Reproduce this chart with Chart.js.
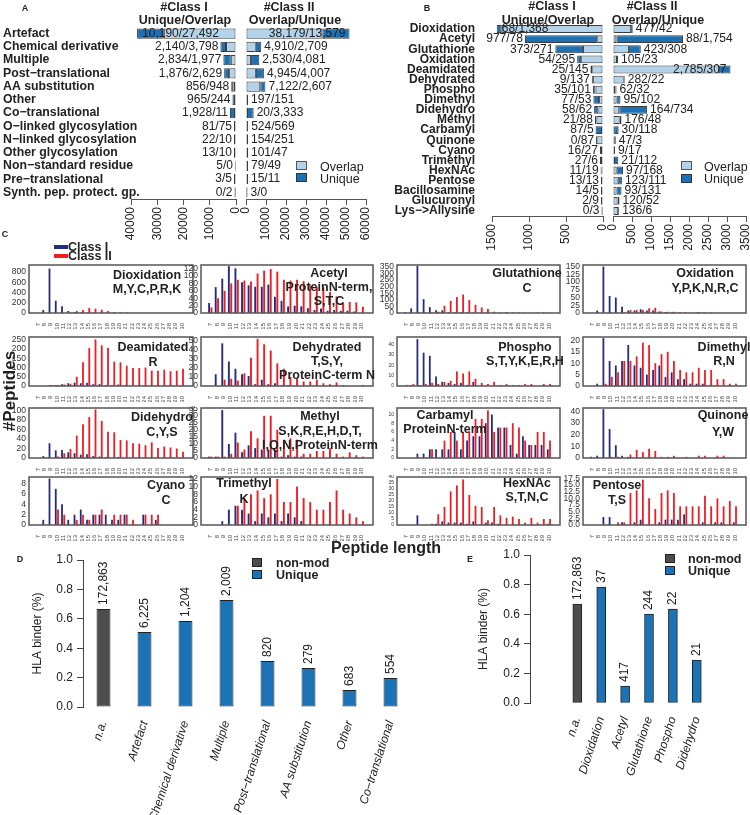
<!DOCTYPE html>
<html>
<head>
<meta charset="utf-8">
<script src="https://cdn.jsdelivr.net/npm/chart.js@4.4.0/dist/chart.umd.min.js"></script>
<style>
  body { margin: 0; background: #fff; }
  #fig { position: relative; width: 750px; height: 815px; overflow: hidden;
         font-family: "Liberation Sans", Arial, sans-serif; color: #222; }
  #fig canvas { position: absolute; }
  .t { position: absolute; white-space: nowrap; line-height: 1; z-index: 5; }
  .sw { position: absolute; box-sizing: border-box; z-index: 5; }
</style>
</head>
<body>
<div id="fig"></div>
<script>
// ---- panel A: modification classes ----
const aCats = ['Artefact', 'Chemical derivative', 'Multiple', 'Post\u2212translational', 'AA substitution',
  'Other', 'Co\u2212translational', 'O\u2212linked glycosylation', 'N\u2212linked glycosylation',
  'Other glycosylation', 'Non\u2212standard residue', 'Pre\u2212translational', 'Synth. pep. protect. gp.'];
const aC1Unique = [10190, 2140, 2834, 1876, 856, 965, 1928, 81, 22, 13, 5, 3, 0];
const aC1Overlap = [27492, 3798, 1977, 2629, 948, 244, 11, 75, 10, 10, 0, 5, 2];
const aC2Overlap = [38179, 4910, 2530, 4945, 7122, 197, 20, 524, 154, 101, 79, 15, 3];
const aC2Unique = [13579, 2709, 4081, 4007, 2607, 151, 3333, 569, 251, 47, 49, 11, 0];

// ---- panel B: single modifications ----
const bCats = ['Dioxidation', 'Acetyl', 'Glutathione', 'Oxidation', 'Deamidated', 'Dehydrated', 'Phospho',
  'Dimethyl', 'Didehydro', 'Methyl', 'Carbamyl', 'Quinone', 'Cyano', 'Trimethyl', 'HexNAc', 'Pentose',
  'Bacillosamine', 'Glucuronyl', 'Lys\u2212>Allysine'];
const bC1Unique = [68, 977, 373, 54, 25, 9, 35, 77, 58, 21, 87, 0, 16, 27, 11, 13, 14, 2, 0];
const bC1Overlap = [1368, 78, 271, 295, 145, 137, 101, 53, 62, 88, 5, 87, 27, 6, 19, 13, 5, 9, 3];
const bC2Overlap = [477, 88, 423, 105, 2785, 282, 62, 95, 164, 176, 30, 47, 9, 21, 97, 123, 93, 120, 136];
const bC2Unique = [42, 1754, 308, 23, 307, 22, 32, 102, 734, 48, 118, 3, 17, 112, 168, 111, 131, 52, 6];

// ---- panel C: peptide length distributions (lengths 7..30) ----
const lengths = ['7', '8', '9', '10', '11', '12', '13', '14', '15', '16', '17', '18', '19', '20',
  '21', '22', '23', '24', '25', '26', '27', '28', '29', '30'];
const dioxC1 = [0, 60, 870, 240, 130, 40, 20, 10, 5, 5, 3, 2, 0, 0, 0, 0, 0, 0, 0, 0, 0, 0, 0, 0];
const dioxC2 = [0, 0, 0, 0, 0, 8, 40, 60, 100, 85, 65, 40, 15, 10, 10, 4, 3, 2, 2, 2, 1, 1, 1, 1];
const acetC1 = [27, 70, 93, 127, 121, 83, 75, 71, 71, 77, 44, 33, 18, 20, 18, 13, 8, 12, 6, 8, 6, 6, 4, 0];
const acetC2 = [15, 40, 60, 80, 90, 88, 85, 107, 115, 119, 112, 90, 88, 90, 86, 75, 70, 70, 57, 45, 27, 30, 29, 17];
const glutC1 = [5, 35, 360, 105, 45, 20, 20, 5, 5, 5, 3, 2, 2, 2, 0, 0, 0, 0, 0, 0, 0, 0, 0, 0];
const glutC2 = [0, 0, 3, 3, 3, 10, 55, 93, 122, 140, 100, 62, 42, 30, 10, 3, 8, 3, 3, 3, 3, 3, 5, 2];
const oxidC1 = [0, 8, 150, 55, 50, 20, 8, 8, 12, 8, 8, 5, 3, 2, 1, 1, 1, 1, 1, 0, 0, 0, 0, 0];
const oxidC2 = [0, 0, 0, 1, 1, 2, 10, 10, 10, 15, 17, 5, 4, 4, 3, 2, 1, 3, 2, 2, 1, 1, 0, 0];
const deamC1 = [0, 0, 3, 5, 10, 15, 18, 15, 18, 10, 10, 5, 3, 8, 3, 0, 0, 0, 0, 0, 0, 0, 0, 0];
const deamC2 = [0, 0, 5, 5, 8, 12, 50, 128, 205, 252, 220, 207, 132, 128, 110, 97, 97, 100, 83, 83, 88, 80, 83, 93];
const dehyC1 = [0, 13, 47, 27, 19, 13, 11, 2, 7, 2, 3, 1, 1, 0, 0, 0, 0, 0, 0, 0, 0, 0, 0, 0];
const dehyC2 = [0, 0, 7, 8, 6, 14, 31, 52, 46, 39, 25, 19, 10, 8, 5, 5, 7, 3, 2, 4, 1, 0, 0, 1];
const phosC1 = [0, 1, 45, 32, 29, 9, 4, 3, 2, 3, 1, 4, 0, 0, 0, 0, 0, 0, 0, 0, 0, 0, 0, 0];
const phosC2 = [1, 2, 1, 2, 3, 2, 4, 5, 14, 12, 14, 7, 3, 2, 4, 1, 2, 1, 1, 2, 2, 0, 2, 2];
const dimeC1 = [0, 1, 21, 11, 9, 11, 18, 9, 8, 5, 7, 9, 4, 6, 3, 3, 1, 1, 1, 0, 0, 0, 0, 0];
const dimeC2 = [0, 0, 1, 4, 6, 11, 11, 13, 19, 18, 10, 14, 15, 11, 7, 6, 6, 8, 7, 7, 3, 3, 1, 1];
const didhC1 = [0, 4, 31, 16, 17, 12, 10, 7, 8, 4, 3, 2, 0, 2, 0, 0, 0, 0, 0, 0, 0, 0, 0, 0];
const didhC2 = [0, 0, 0, 3, 10, 19, 47, 71, 86, 102, 78, 55, 54, 38, 37, 31, 30, 27, 33, 21, 24, 22, 20, 13];
const methC1 = [1, 1, 34, 10, 18, 4, 9, 7, 6, 6, 5, 1, 2, 1, 1, 0, 0, 0, 0, 0, 0, 0, 0, 0];
const methC2 = [1, 1, 1, 3, 11, 6, 19, 14, 30, 30, 20, 13, 14, 13, 3, 3, 5, 5, 7, 3, 1, 4, 2, 1];
const carbC1 = [0, 0, 1, 1, 2, 2, 2, 2, 6, 2, 4, 5, 5, 8, 10, 7, 7, 3, 1, 5, 3, 3, 3, 2];
const carbC2 = [0, 0, 0, 0, 2, 0, 4, 6, 4, 6, 6, 9, 9, 11, 6, 7, 7, 8, 7, 4, 3, 6, 6, 4];
const quinC1 = [1, 2, 42, 25, 11, 2, 1, 0, 0, 0, 0, 0, 0, 0, 0, 0, 0, 0, 0, 0, 0, 0, 0, 0];
const quinC2 = [0, 0, 0, 1, 1, 0, 3, 7, 5, 8, 6, 1, 1, 2, 0, 1, 0, 2, 2, 0, 2, 2, 0, 0];
const cyanC1 = [0, 1, 9, 7, 4, 1, 2, 3, 1, 2, 2, 2, 1, 1, 2, 0, 0, 2, 0, 1, 0, 0, 0, 0];
const cyanC2 = [0, 0, 0, 3, 2, 0, 1, 2, 1, 2, 3, 0, 2, 2, 2, 1, 0, 2, 2, 2, 0, 0, 0, 0];
const trimC1 = [0, 0, 1, 4, 5, 4, 3, 1, 3, 2, 3, 1, 3, 2, 1, 0, 0, 0, 0, 0, 0, 0, 0, 0];
const trimC2 = [0, 0, 0, 0, 5, 7, 8, 9, 7, 8, 12, 6, 6, 10, 7, 6, 4, 4, 6, 9, 4, 3, 2, 1];
const hexnC1 = [0, 0, 8, 0, 0, 1, 3, 2, 2, 2, 1, 3, 0, 2, 2, 1, 0, 0, 0, 0, 0, 0, 0, 1];
const hexnC2 = [0, 0, 0, 0, 1, 9, 15, 28, 33, 38, 25, 16, 15, 4, 15, 8, 6, 7, 5, 2, 6, 2, 5, 5];
const pentC1 = [0, 0, 3, 3, 0, 1, 0, 1, 2, 0, 0, 1, 2, 2, 2, 4, 0, 0, 1, 0, 1, 1, 0, 1];
const pentC2 = [0, 0, 0, 0, 1, 1, 12, 13, 17, 10, 6, 12, 13, 12, 7, 7, 7, 7, 11, 7, 10, 7, 9, 7];

// ---- panels D and E: HLA binder fraction ----
const dCats = ['n.a.', 'Artefact', 'Chemical derivative', 'Multiple', 'Post\u2212translational',
  'AA substitution', 'Other', 'Co\u2212translational'];
const dBinder = [0.667, 0.51, 0.585, 0.728, 0.313, 0.265, 0.116, 0.197];
const dCounts = ['172,863', '6,225', '1,204', '2,009', '820', '279', '683', '554'];
const eCats = ['n.a.', 'Dioxidation', 'Acetyl', 'Glutathione', 'Phospho', 'Didehydro'];
const eBinder = [0.669, 0.784, 0.115, 0.601, 0.635, 0.29];
const eCounts = ['172,863', '37', '417', '244', '22', '21'];

const FONT = '"Liberation Sans", Arial, sans-serif';
const OVERLAP = '#b2d3ea', UNIQUE = '#1d71b3', EDGE = '#3c3c3c';
const NAVY = '#262b7c', RED = '#ee1d23', NONMOD = '#4d4d4d', BLUE = '#1b73b5';
Chart.defaults.font.family = FONT;
Chart.defaults.color = '#222';

const fig = document.getElementById('fig');

function addCanvas(left, top, w, h) {
  const c = document.createElement('canvas');
  c.width = w; c.height = h;
  c.style.left = left + 'px'; c.style.top = top + 'px';
  fig.appendChild(c);
  return c.getContext('2d');
}

function text(str, x, y, o = {}) {
  const d = document.createElement('div');
  d.className = 't';
  d.textContent = str;
  d.style.left = x + 'px';
  d.style.top = y + 'px';
  d.style.fontSize = (o.size || 12) + 'px';
  d.style.fontWeight = o.bold === false ? 'normal' : 'bold';
  const tx = o.align === 'left' ? '0' : o.align === 'right' ? '-100%' : '-50%';
  d.style.transform = `translate(${tx},-50%)` + (o.rot ? ` rotate(${o.rot}deg)` : '');
  fig.appendChild(d);
}

function swatch(x, y, w, h, color, border) {
  const d = document.createElement('div');
  d.className = 'sw';
  Object.assign(d.style, { left: x + 'px', top: y + 'px', width: w + 'px', height: h + 'px', background: color });
  if (border) d.style.border = '1px solid ' + border;
  fig.appendChild(d);
}

const fmt = n => n.toLocaleString('en-US');
// the layout should follow the paddings given here, not the label overhang
const noPad = s => { s.paddingLeft = 0; s.paddingRight = 0; s.paddingTop = 0; s.paddingBottom = 0; };

// count labels next to the stacked bars in A and B
const valueText = {
  id: 'valueText',
  afterDatasetsDraw(chart, args, o) {
    const ctx = chart.ctx, ca = chart.chartArea;
    ctx.save();
    ctx.font = '12px ' + FONT;
    ctx.fillStyle = '#222';
    ctx.textBaseline = 'middle';
    chart.getDatasetMeta(1).data.forEach((bar, i) => {
      const t = o.texts[i];
      const w = ctx.measureText(t).width;
      if (o.side === 'left') {
        const xe = Math.min(bar.x, bar.base);
        if (xe - 3 - w < ca.left - 12) { ctx.textAlign = 'left'; ctx.fillText(t, xe + 5, bar.y); }
        else { ctx.textAlign = 'right'; ctx.fillText(t, xe - 2, bar.y); }
      } else {
        const xe = Math.max(bar.x, bar.base);
        if (xe + 3 + w > chart.width - 2) { ctx.textAlign = 'right'; ctx.fillText(t, xe - 4, bar.y); }
        else { ctx.textAlign = 'left'; ctx.fillText(t, xe + 3, bar.y); }
      }
    });
    ctx.restore();
  }
};

function hbar(box, cats, overlap, unique, xmax, step, side, yAxis) {
  const ctx = addCanvas(box.l, box.t, box.w, box.h);
  const texts = side === 'left'
    ? unique.map((u, i) => fmt(u) + '/' + fmt(overlap[i]))
    : overlap.map((v, i) => fmt(v) + '/' + fmt(unique[i]));
  const ds = (data, color) => ({
    data, backgroundColor: color, borderColor: EDGE, borderWidth: 1, borderSkipped: false,
    minBarLength: 1, barPercentage: 0.78, categoryPercentage: 1
  });
  new Chart(ctx, {
    type: 'bar',
    data: { labels: cats, datasets: [ds(overlap, OVERLAP), ds(unique, UNIQUE)] },
    options: {
      indexAxis: 'y', responsive: false, animation: false,
      layout: { padding: box.pad },
      plugins: { legend: { display: false }, tooltip: { enabled: false }, valueText: { texts, side } },
      scales: {
        x: {
          type: 'linear', stacked: true, min: 0, max: xmax, reverse: side === 'left',
          ticks: { stepSize: step, minRotation: 90, maxRotation: 90, font: { size: 12 }, color: '#222',
            padding: 2, callback: v => String(v) },
          grid: { drawOnChartArea: false, drawTicks: true, tickLength: 6, color: '#555' },
          border: { color: '#555', width: 1 },
          afterFit: s => { noPad(s); s.height = box.xh; }
        },
        y: Object.assign({
          stacked: true,
          grid: { display: false, drawTicks: false },
          border: { display: false }
        }, yAxis)
      }
    },
    plugins: [valueText]
  });
}

// ---------- panel A ----------
// mirrored labels are not clipped to the axis box, so the long names may run into the plot
hbar({ l: 0, t: 0, w: 240, h: 244, pad: { left: 3, right: 4, top: 27, bottom: 0 }, xh: 45 },
  aCats, aC1Overlap, aC1Unique, 40000, 10000, 'left',
  { display: true, ticks: { autoSkip: false, mirror: true, crossAlign: 'near', padding: -128, color: '#222',
      font: { size: 12.3, weight: 'bold' } }, afterFit: s => { noPad(s); s.width = 128; } });
hbar({ l: 240, t: 0, w: 135, h: 244, pad: { left: 6, right: 9, top: 27, bottom: 0 }, xh: 45 },
  aCats, aC2Overlap, aC2Unique, 60000, 10000, 'right', { display: false });

// ---------- panel B ----------
hbar({ l: 375, t: 0, w: 232, h: 250, pad: { left: 0, right: 4, top: 24, bottom: 0 }, xh: 34 },
  bCats, bC1Overlap, bC1Unique, 1500, 500, 'left',
  { display: true, ticks: { autoSkip: false, crossAlign: 'near', padding: 17, color: '#222',
      font: { size: 12, weight: 'bold' } }, afterFit: s => { noPad(s); s.width = 117; } });
hbar({ l: 607, t: 0, w: 143, h: 250, pad: { left: 6, right: 4, top: 24, bottom: 0 }, xh: 34 },
  bCats, bC2Overlap, bC2Unique, 3500, 500, 'right', { display: false });

// ---------- panel C ----------
const boxPlugin = {
  id: 'box',
  afterDraw(chart) {
    const { ctx, chartArea: a } = chart;
    ctx.save();
    ctx.strokeStyle = '#555';
    ctx.lineWidth = 1.5;
    ctx.strokeRect(a.left - 6, a.top, a.right - a.left + 14, a.bottom - a.top);
    ctx.restore();
  }
};

const cCols = [{ l: 29, r: 193 }, { l: 201, r: 373 }, { l: 397, r: 560 }, { l: 583, r: 746 }];
const cRows = [{ t: 265, b: 313 }, { t: 337, b: 386 }, { t: 408, b: 458 }, { t: 477, b: 525 }];

const cPanels = [
  { c1: dioxC1, c2: dioxC2, max: 940, step: 200, title: ['Dioxidation', 'M,Y,C,P,R,K'], tx: 147, ty: [275, 289] },
  { c1: acetC1, c2: acetC2, max: 130, step: 20, title: ['Acetyl', 'ProteinN-term,', 'S,T,C'], tx: 329, ty: [273, 287, 301] },
  { c1: glutC1, c2: glutC2, max: 365, step: 50, title: ['Glutathione', 'C'], tx: 527, ty: [273, 288] },
  { c1: oxidC1, c2: oxidC2, max: 155, step: 25, title: ['Oxidation', 'Y,P,K,N,R,C'], tx: 705, ty: [273, 288] },
  { c1: deamC1, c2: deamC2, max: 265, step: 50, title: ['Deamidated', 'R'], tx: 153, ty: [347, 362] },
  { c1: dehyC1, c2: dehyC2, max: 54, step: 10, title: ['Dehydrated', 'T,S,Y,', 'ProteinC-term N'], tx: 327, ty: [347, 361, 375] },
  { c1: phosC1, c2: phosC2, max: 47, step: 10, tiny: true, title: ['Phospho', 'S,T,Y,K,E,R,H'], tx: 525, ty: [347, 361] },
  { c1: dimeC1, c2: dimeC2, max: 21.5, step: 5, title: ['Dimethyl', 'R,N'], tx: 724, ty: [347, 361] },
  { c1: didhC1, c2: didhC2, max: 105, step: 20, title: ['Didehydro', 'C,Y,S'], tx: 162, ty: [417, 432] },
  { c1: methC1, c2: methC2, max: 35.5, step: 5, title: ['Methyl', 'S,K,R,E,H,D,T,', 'I,Q,N,ProteinN-term'], tx: 320, ty: [416, 431, 445] },
  { c1: carbC1, c2: carbC2, max: 11.5, step: 2, tiny: true, title: ['Carbamyl', 'ProteinN-term'], tx: 445, ty: [415, 429] },
  { c1: quinC1, c2: quinC2, max: 43, step: 10, title: ['Quinone', 'Y,W'], tx: 723, ty: [415, 432] },
  { c1: cyanC1, c2: cyanC2, max: 9.3, step: 2, title: ['Cyano', 'C'], tx: 166, ty: [485, 500] },
  { c1: trimC1, c2: trimC2, max: 12.5, step: 2, title: ['Trimethyl', 'K'], tx: 244, ty: [483, 499] },
  { c1: hexnC1, c2: hexnC2, max: 40, step: 5, tiny: true, title: ['HexNAc', 'S,T,N,C'], tx: 527, ty: [483, 497] },
  { c1: pentC1, c2: pentC2, max: 18, step: 2.5, title: ['Pentose', 'T,S'], tx: 617, ty: [485, 500] }
];

cPanels.forEach((p, k) => {
  const col = cCols[k % 4], row = cRows[Math.floor(k / 4)];
  const ctx = addCanvas(col.l - 30, row.t - 2, col.r - col.l + 32, row.b - row.t + 18);
  const ds = (data, color) => ({ data, backgroundColor: color, barPercentage: 0.8, categoryPercentage: 0.72 });
  new Chart(ctx, {
    type: 'bar',
    data: { labels: lengths, datasets: [ds(p.c1, NAVY), ds(p.c2, RED)] },
    options: {
      responsive: false, animation: false,
      layout: { padding: { top: 2, right: 10, left: 0, bottom: 0 } },
      plugins: { legend: { display: false }, tooltip: { enabled: false } },
      scales: {
        x: {
          grid: { display: false }, border: { display: false },
          ticks: { font: { size: 6 }, color: '#444', minRotation: 90, maxRotation: 90, autoSkip: false, padding: 2 },
          afterFit: s => { noPad(s); s.height = 16; }
        },
        y: {
          min: 0, max: p.max,
          ticks: { stepSize: p.step, includeBounds: false, autoSkip: false, font: { size: p.tiny ? 5 : 8.5 },
            color: '#333', padding: 9, callback: v => (p.step % 1 ? v.toFixed(1) : String(v)) },
          grid: { display: false, drawTicks: false }, border: { display: false },
          afterFit: s => { noPad(s); s.width = 36; }
        }
      }
    },
    plugins: [boxPlugin]
  });
  p.title.forEach((line, j) => text(line, p.tx, p.ty[j], { size: 12.5 }));
});

// ---------- panels D and E ----------
const countText = {
  id: 'countText',
  afterDatasetsDraw(chart, args, o) {
    const ctx = chart.ctx;
    ctx.save();
    ctx.font = '12px ' + FONT;
    ctx.fillStyle = '#222';
    chart.getDatasetMeta(0).data.forEach((bar, i) => {
      ctx.save();
      ctx.translate(bar.x, bar.y - 4);
      ctx.rotate(-Math.PI / 2);
      ctx.textAlign = 'left';
      ctx.textBaseline = 'middle';
      ctx.fillText(o.texts[i], 0, 0);
      ctx.restore();
    });
    ctx.restore();
  }
};

function binderY(width, titlePad) {
  return {
    min: 0, max: 1,
    ticks: { stepSize: 0.2, font: { size: 12 }, color: '#222', padding: 4, callback: v => v.toFixed(1) },
    grid: { drawOnChartArea: false, tickLength: 6, color: '#444' },
    border: { color: '#444' },
    title: { display: true, text: 'HLA binder (%)', font: { size: 12 }, color: '#222', padding: { top: titlePad, bottom: 0 } },
    afterFit: s => { noPad(s); s.width = width; }
  };
}

new Chart(addCanvas(0, 548, 420, 267), {
  type: 'bar',
  data: {
    labels: dCats,
    datasets: [{
      data: dBinder, backgroundColor: dBinder.map((v, i) => (i === 0 ? NONMOD : BLUE)),
      borderColor: '#222', borderWidth: 1, borderSkipped: false, barPercentage: 0.34, categoryPercentage: 1
    }]
  },
  options: {
    responsive: false, animation: false,
    layout: { padding: { top: 12, right: 9, left: 0, bottom: 0 } },
    plugins: { legend: { display: false }, tooltip: { enabled: false }, countText: { texts: dCounts } },
    scales: {
      x: {
        grid: { display: false }, border: { display: false },
        ticks: { font: { size: 12, style: 'italic' }, color: '#222', minRotation: 72, maxRotation: 72, autoSkip: false, padding: 4 },
        afterFit: s => { noPad(s); s.height = 108; }
      },
      y: binderY(83, 30)
    }
  },
  plugins: [countText]
});

new Chart(addCanvas(420, 543, 330, 272), {
  type: 'bar',
  data: {
    datasets: [{
      data: eBinder.map((v, i) => ({ x: i, y: v })),
      backgroundColor: eBinder.map((v, i) => (i === 0 ? NONMOD : BLUE)),
      borderColor: '#222', borderWidth: 1, borderSkipped: false, barThickness: 9
    }]
  },
  options: {
    responsive: false, animation: false,
    layout: { padding: { top: 12, right: 25, left: 0, bottom: 0 } },
    plugins: { legend: { display: false }, tooltip: { enabled: false }, countText: { texts: eCounts } },
    scales: {
      x: {
        type: 'linear', min: -1.3, max: 5.5,
        grid: { display: false }, border: { display: false },
        ticks: { font: { size: 12, style: 'italic' }, color: '#222', minRotation: 72, maxRotation: 72, autoSkip: false,
          padding: 4, callback: v => eCats[v] },
        afterBuildTicks: s => { s.ticks = eCats.map((c, i) => ({ value: i })); },
        afterFit: s => { noPad(s); s.height = 112; }
      },
      y: binderY(110, 56)
    }
  },
  plugins: [countText]
});

// ---------- texts and legends ----------
text('A', 25, 8, { size: 9 });
text('B', 427, 8, { size: 9 });
text('C', 5, 234, { size: 9 });
text('D', 20, 559, { size: 9 });
text('E', 470, 559, { size: 9 });

text('#Class I', 184, 7, { size: 12.5 });
text('Unique/Overlap', 185, 20, { size: 12.5 });
text('#Class II', 289, 7, { size: 12.5 });
text('Overlap/Unique', 295, 20, { size: 12.5 });
text('#Class I', 552, 6, { size: 12.5 });
text('Unique/Overlap', 548, 20, { size: 12.5 });
text('#Class II', 652, 6, { size: 12.5 });
text('Overlap/Unique', 658, 20, { size: 12.5 });

swatch(296, 161, 11, 9, OVERLAP, '#555');
swatch(296, 173, 11, 9, UNIQUE, '#333');
text('Overlap', 320, 167, { size: 12.5, bold: false, align: 'left' });
text('Unique', 320, 179, { size: 12.5, bold: false, align: 'left' });
swatch(681, 161, 11, 9, OVERLAP, '#555');
swatch(681, 174, 11, 9, UNIQUE, '#333');
text('Overlap', 704, 167, { size: 12.5, bold: false, align: 'left' });
text('Unique', 704, 179, { size: 12.5, bold: false, align: 'left' });

swatch(54, 245, 14, 4, NAVY);
swatch(54, 254, 14, 4, RED);
text('Class I', 68, 247, { size: 12.5, align: 'left' });
text('Class II', 68, 256, { size: 12.5, align: 'left' });

text('#Peptides', 9, 391, { size: 17, rot: -90 });
text('Peptide length', 386, 548, { size: 16 });

swatch(252, 558, 10, 9, NONMOD, '#222');
swatch(252, 570, 10, 9, BLUE, '#222');
text('non-mod', 276, 563, { size: 12.5, align: 'left' });
text('Unique', 276, 575, { size: 12.5, align: 'left' });
swatch(665, 554, 10, 9, NONMOD, '#222');
swatch(665, 566, 10, 9, BLUE, '#222');
text('non-mod', 688, 559, { size: 12.5, align: 'left' });
text('Unique', 688, 571, { size: 12.5, align: 'left' });
</script>
</body>
</html>
